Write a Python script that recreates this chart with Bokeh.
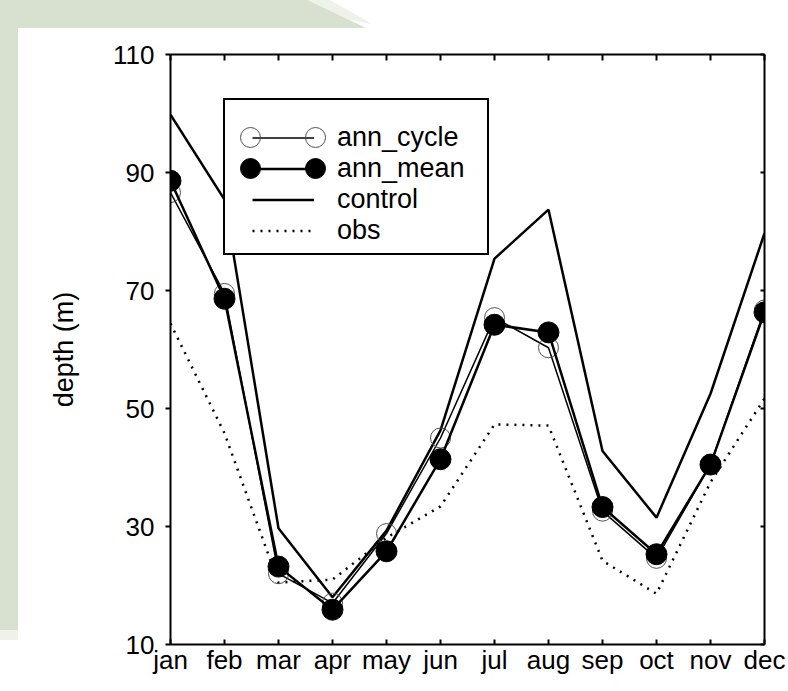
from bokeh.plotting import figure
from bokeh.models import (Range1d, FixedTicker, LinearAxis, Legend, LegendItem,
                          ColumnDataSource)
from bokeh.embed import file_html
from bokeh.resources import INLINE
from bokeh.core.properties import value

# ---------------- data ----------------
months = ["jan", "feb", "mar", "apr", "may", "jun", "jul", "aug", "sep", "oct", "nov", "dec"]
month_idx = [1, 2, 3, 4, 5, 6, 7, 8, 9, 10, 11, 12]
ann_cycle = [86.6, 69.5, 22.0, 17.0, 28.8, 45.0, 65.4, 60.3, 32.6, 24.6, 40.5, 66.7]
ann_mean = [88.6, 68.6, 23.2, 15.9, 25.8, 41.4, 64.2, 62.9, 33.3, 25.3, 40.5, 66.3]
control = [99.8, 85.4, 29.7, 18.0, 29.3, 46.3, 75.4, 83.7, 42.8, 31.5, 52.5, 79.7]
obs = [64.4, 45.8, 20.5, 21.0, 28.1, 33.4, 47.3, 47.1, 24.2, 18.6, 37.5, 51.7]
y_ticks = [10, 30, 50, 70, 90, 110]
y_label = "depth (m)"

src = ColumnDataSource(dict(x=month_idx, cyc=ann_cycle, mean=ann_mean, ctl=control, obs=obs))

FONT = "Liberation Sans"

p = figure(width=788, height=691, x_range=Range1d(1, 12), y_range=Range1d(10, 110),
           output_backend="svg", toolbar_location=None,
           min_border_left=170, min_border_right=24, min_border_top=54, min_border_bottom=47)
p.background_fill_color = "white"
p.border_fill_alpha = 0
p.outline_line_color = None
p.xgrid.visible = False
p.ygrid.visible = False

# decorative page chrome: pale green strips along the top-left (CSS background)
bg_svg = ("<svg xmlns='http://www.w3.org/2000/svg' width='788' height='691'>"
          "<polygon points='0,0 308,0 366,28 0,28' fill='%23d8e1cf'/>"
          "<polygon points='308,0 330,0 372,24 350,20' fill='%23eef2ea'/>"
          "<rect x='0' y='0' width='18' height='630' fill='%23d8e1cf'/>"
          "<rect x='0' y='630' width='18' height='10' fill='%23eef2ea'/>"
          "</svg>")
p.styles = {"background": f'url("data:image/svg+xml;utf8,{bg_svg}") no-repeat, white'}

# axes
xl = p.xaxis[0]
yl = p.yaxis[0]
top = LinearAxis()
right = LinearAxis()
p.add_layout(top, "above")
p.add_layout(right, "right")

for ax in (xl, top):
    ax.ticker = FixedTicker(ticks=month_idx)
for ax in (yl, right):
    ax.ticker = FixedTicker(ticks=y_ticks)

xl.major_label_overrides = {i: m for i, m in zip(month_idx, months)}
top.major_label_overrides = {i: "" for i in month_idx}
right.major_label_overrides = {t: "" for t in y_ticks}

for ax in (xl, yl, top, right):
    ax.axis_line_width = 2
    ax.axis_line_color = "black"
    ax.major_tick_line_width = 2
    ax.major_tick_line_color = "black"
    ax.minor_tick_line_color = None
    ax.major_label_text_font = FONT
    ax.major_label_text_font_size = "26px"
    ax.major_label_text_color = "black"

yl.major_tick_in = 0
yl.major_tick_out = 5
yl.major_label_standoff = 11
xl.major_tick_in = 5
xl.major_tick_out = 0
xl.major_label_standoff = 0
top.major_tick_in = 6
top.major_tick_out = 0
top.major_label_standoff = 0
right.major_tick_in = 4
right.major_tick_out = 0
right.major_label_standoff = 0

yl.axis_label = y_label
yl.axis_label_text_font = FONT
yl.axis_label_text_font_size = "27px"
yl.axis_label_text_font_style = "normal"
yl.axis_label_text_color = "black"
yl.axis_label_standoff = 31

# glyphs
obs_line = p.line("x", "obs", source=src, line_color="black", line_width=2.5, line_dash="2 6")
control_line = p.line("x", "ctl", source=src, line_color="black", line_width=2.5)
cycle_line = p.line("x", "cyc", source=src, line_color="black", line_width=1.5)
cycle_pts = p.scatter("x", "cyc", source=src, marker="circle", size=20,
                      fill_alpha=0, line_color="#505050", line_width=1)
mean_line = p.line("x", "mean", source=src, line_color="black", line_width=2.5)
mean_pts = p.scatter("x", "mean", source=src, marker="circle", size=21,
                     fill_color="black", line_color="black")

# invisible renderer used only to size the legend frame
frame_dummy = p.line(x=[], y=[], line_alpha=0)

# legend frame (white box with black border)
p.add_layout(Legend(items=[LegendItem(label=value(" "), renderers=[frame_dummy])],
                    location=(53, 389), glyph_width=262, glyph_height=153,
                    label_height=0, label_width=0, label_standoff=0,
                    padding=0, spacing=0, margin=0,
                    label_text_font_size="1px", label_text_alpha=0,
                    border_line_color="black", border_line_width=2, border_line_alpha=1,
                    background_fill_color="white", background_fill_alpha=1))

# legend lines + labels
leg = Legend(items=[LegendItem(label=value("ann_cycle"), renderers=[cycle_line]),
                    LegendItem(label=value("ann_mean"), renderers=[mean_line]),
                    LegendItem(label=value("control"), renderers=[control_line]),
                    LegendItem(label=value("obs"), renderers=[obs_line])],
             location=(82, 398), orientation="vertical",
             glyph_width=62, glyph_height=31, label_height=31, label_width=120,
             spacing=0, padding=0, label_standoff=23, margin=0,
             label_text_font=FONT, label_text_font_size="27px", label_text_color="black",
             border_line_alpha=0, background_fill_alpha=0)
p.add_layout(leg)

# marker samples at both ends of the legend lines
for rend, (lx, ly) in [(cycle_pts, (55, 482)), (cycle_pts, (120, 482)),
                       (mean_pts, (55, 451)), (mean_pts, (120, 451))]:
    p.add_layout(Legend(items=[LegendItem(label=value(" "), renderers=[rend])],
                        location=(lx, ly), glyph_width=50, glyph_height=50,
                        label_height=0, label_width=0, label_standoff=0,
                        padding=0, spacing=0, margin=0,
                        label_text_font_size="1px", label_text_alpha=0,
                        border_line_alpha=0, background_fill_alpha=0))

open("out.html", "w").write(file_html(p, INLINE))
